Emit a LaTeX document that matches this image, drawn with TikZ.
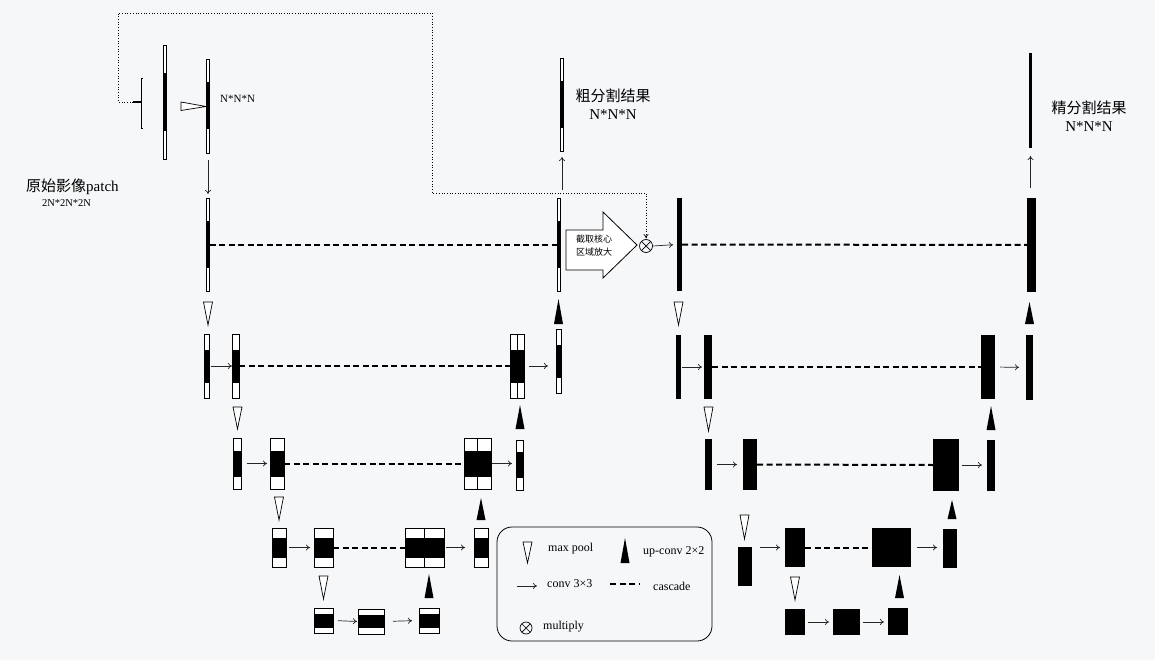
\documentclass[tikz,border=0pt]{standalone}
\usepackage{fontspec}
\setmainfont{Liberation Serif}
\newfontfamily\cjk{Noto Sans CJK SC}
\usetikzlibrary{arrows.meta,positioning}

\definecolor{bgcol}{RGB}{246,247,249}

% feature map: name, x, y, width, height, height of black band
\newcommand{\fmap}[6]{%
    \node[fmap, minimum width=#4pt, minimum height=#5pt] (#1) at (#2,#3) {};
    \fill ([yshift=0.5*#6pt]#1.west) rectangle ([yshift=-0.5*#6pt]#1.east);
    \draw[fmapline] (#1.north west) rectangle (#1.south east);
}
% solid feature map: name, x, y, width, height
\newcommand{\fsolid}[5]{%
    \node[fmap, fill=black, minimum width=#4pt, minimum height=#5pt] (#1) at (#2,#3) {};
}
% max pool / up-conv marks: x, top, bottom
\newcommand{\pooltri}[3]{\draw[pool] (#1-4.5,#2) -- (#1+4.5,#2) -- (#1,#3) -- cycle;}
\newcommand{\uptri}[3]{\fill (#1,#2) -- (#1+4.5,#3) -- (#1-4.5,#3) -- cycle;}

\begin{document}
\begin{tikzpicture}[
        x=1pt, y=-1pt,
        fmap/.style={
            rectangle,
            fill=white,
            inner sep=0pt,
            outer sep=0pt
        },
        fmapline/.style={line width=0.8pt},
        pool/.style={draw, fill=white, line width=0.7pt},
        conv/.style={
            -{To[length=4pt,width=6pt]},
            line width=0.7pt,
            black!85,
            shorten <=3pt,
            shorten >=4pt
        },
        cascade/.style={
            line width=2pt,
            dash pattern=on 6pt off 3.5pt
        },
        jump/.style={dotted, line width=0.7pt},
        mul/.style={
            circle,
            draw,
            line width=0.7pt,
            inner sep=0pt,
            minimum size=13pt,
            path picture={
                \draw (path picture bounding box.north west) -- (path picture bounding box.south east)
                      (path picture bounding box.south west) -- (path picture bounding box.north east);
            }
        },
        title/.style={font=\fontsize{15}{18}\selectfont, align=center, inner sep=0pt},
        lgd/.style={font=\fontsize{12}{14}\selectfont, anchor=west, inner sep=0pt}
    ]

    \fill[bgcol] (0,0) rectangle (1155,660);
    \useasboundingbox (0,0) rectangle (1155,660);

    % input patch
    \fmap{inbig}{165}{102}{3}{114}{58}
    \fmap{inpatch}{208}{106}{3.5}{94}{47}
    \draw[line width=0.8pt] (143,78) -- (141,78) -- (141,128) -- (143,128);
    \coordinate (tick) at (133,102);
    \draw[line width=1.5pt] (tick) -- (141,102);
    \draw[pool] (181,102) -- (206,106.5) -- (181,110.5) -- cycle;
    \node[anchor=west, inner sep=0pt, font=\fontsize{11}{13}\selectfont] (nsmall) at (220,99) {N*N*N};
    \node[anchor=west, inner sep=0pt, font=\fontsize{15}{18}\selectfont] (patch) at (26,187) {{\cjk 原始影像}patch};
    \node[inner sep=0pt, font=\fontsize{10.5}{12}\selectfont] (patchsize) at (66.5,203) {2N*2N*2N};

    % coarse network
    \fmap{la0}{208}{244.5}{3.5}{93}{47}
    \fmap{lb0}{559}{244.5}{3.5}{93}{47}

    \fmap{la1}{206.5}{366}{5}{64}{33}
    \fmap{lb1}{235.5}{366}{7}{64}{33}
    \fmap{lc1}{517}{366}{14}{64}{33}
    \draw[fmapline] (lc1.north) -- (lc1.south);
    \fmap{ld1}{558.5}{361}{5}{64}{33}

    \fmap{la2}{237}{463.5}{8}{51}{26}
    \fmap{lb2}{277}{463.5}{14}{51}{26}
    \fmap{lc2}{477.5}{463.5}{27}{51}{26}
    \draw[fmapline] (lc2.north) -- (lc2.south);
    \fmap{ld2}{519.5}{465}{7}{50}{26}

    \fmap{la3}{279}{547.5}{14}{39}{20}
    \fmap{lb3}{323.5}{547.5}{19}{39}{20}
    \fmap{lc3}{424.5}{547.5}{39}{39}{20}
    \draw[fmapline] (lc3.north) -- (lc3.south);
    \fmap{ld3}{481}{547.5}{14}{39}{20}

    \fmap{la4}{323.5}{620.5}{19}{25}{14}
    \fmap{lb4}{371}{621.5}{26}{25}{13}
    \fmap{lc4}{429}{620.5}{20}{25}{14}

    \fmap{coarse}{562}{104.5}{3}{93}{47}
    \node[title] (coarsetxt) at (613,104) {{\cjk 粗分割结果}\\N*N*N};

    \pooltri{208}{302}{325}
    \pooltri{237.5}{407}{429}
    \pooltri{279}{497}{520}
    \pooltri{323.5}{576}{599}
    \uptri{429}{574}{598}
    \uptri{481}{498}{520}
    \uptri{520}{405}{429}
    \uptri{558.5}{299}{324}

    % crop and multiply
    \draw[line width=0.8pt, fill=white] (566,230) -- (603,230) -- (603,212) -- (637,245)
        -- (603,278) -- (603,270) -- (566,270) -- cycle;
    \node[align=center, inner sep=0pt, font=\cjk\fontsize{9}{13}\selectfont] (crop) at (594,245.5) {截取核心\\区域放大};
    \node[mul] (mult) at (646,246) {};

    % fine network
    \fsolid{ra0}{679.5}{244.5}{5}{93}
    \fsolid{rb0}{1031.5}{245}{9}{94}

    \fsolid{ra1}{678.5}{367}{5}{64}
    \fsolid{rb1}{708}{367}{8}{64}
    \fsolid{rc1}{988}{367}{14}{64}
    \fsolid{rd1}{1029.5}{367.5}{7}{65}

    \fsolid{ra2}{708.5}{464.5}{7}{51}
    \fsolid{rb2}{750}{464.5}{14}{51}
    \fsolid{rc2}{946}{465}{26}{52}
    \fsolid{rd2}{991}{465.5}{8}{51}

    \fsolid{ra3}{745}{566.5}{14}{39}
    \fsolid{rb3}{795}{547.5}{20}{39}
    \fsolid{rc3}{891.5}{547.5}{39}{39}
    \fsolid{rd3}{950}{548.5}{14}{39}

    \fsolid{ra4}{795}{622}{20}{26}
    \fsolid{rb4}{846.5}{622}{27}{26}
    \fsolid{rc4}{898}{621.5}{20}{27}

    \fsolid{fine}{1030.5}{100.5}{3}{95}
    \node[title] (finetxt) at (1089,116) {{\cjk 精分割结果}\\N*N*N};

    \pooltri{678.5}{302}{325}
    \pooltri{708.5}{407}{431}
    \pooltri{744.5}{515}{539}
    \pooltri{795}{577}{600}
    \uptri{899.5}{575}{598}
    \uptri{952}{500}{519}
    \uptri{991}{406}{430}
    \uptri{1029.5}{302}{324}

    % cascades
    \draw[cascade] (la0.east) -- (lb0.west);
    \draw[cascade] (lb1.east) -- (lc1.west);
    \draw[cascade] (lb2.east) -- (lc2.west);
    \draw[cascade] (lb3.east) -- (lc3.west);
    \draw[cascade] (ra0.east) -- (rb0.west);
    \draw[cascade] (rb1.east) -- (rc1.west);
    \draw[cascade] (rb2.east) -- (rc2.west);
    \draw[cascade] (rb3.east) -- (rc3.west);

    % arrows
    \draw[conv, shorten <=7pt, shorten >=4pt] (inpatch.south) -- (la0.north);
    \draw[conv, shorten <=8pt, shorten >=6pt] (coarse.south |- lb0.north) -- (coarse.south);
    \draw[conv, shorten <=10pt, shorten >=8pt] (fine.south |- rb0.north) -- (fine.south);

    \draw[conv, shorten <=2pt, shorten >=0pt] (la1.east) -- (lb1.west);
    \draw[conv, shorten <=5pt, shorten >=8pt] (lc1.east) -- (lc1.east -| ld1.west);
    \draw[conv, shorten <=6pt, shorten >=3pt] (la2.east) -- (lb2.west);
    \draw[conv, shorten <=1pt, shorten >=4pt] (lc2.east) -- (lc2.east -| ld2.west);
    \draw[conv] (la3.east) -- (lb3.west);
    \draw[conv, shorten <=2pt, shorten >=9pt] (lc3.east) -- (ld3.west);
    \draw[conv, shorten <=5pt, shorten >=1pt] (la4.east) -- (lb4.west);
    \draw[conv, shorten <=9pt, shorten >=7pt] (lb4.east) -- (lc4.west);

    \draw[conv, shorten <=0pt] (mult.east) -- (ra0.west);
    \draw[conv, shorten <=1pt, shorten >=2pt] (ra1.east) -- (rb1.west);
    \draw[conv, shorten <=5pt, shorten >=7pt] (rc1.east) -- (rd1.west);
    \draw[conv, shorten <=5pt, shorten >=6pt] (ra2.east) -- (rb2.west);
    \draw[conv, shorten <=3pt, shorten >=5pt] (rc2.east) -- (rc2.east -| rd2.west);
    \draw[conv, shorten <=8pt, shorten >=5pt] (ra3.east |- rb3.west) -- (rb3.west);
    \draw[conv, shorten <=6pt, shorten >=6pt] (rc3.east) -- (rc3.east -| rd3.west);
    \draw[conv] (ra4.east) -- (rb4.west);
    \draw[conv] (rb4.east) -- (rb4.east -| rc4.west);

    % skip path of the input
    \coordinate (turn) at (432,193);
    \draw[jump, -{To[length=4pt,width=5pt]}, shorten >=1pt]
        (tick) -- (118,102) -- (118,13) -- (432,13) -- (turn) -- (mult.north |- turn) -- (mult.north);

    % legend
    \node[draw, rounded corners=15pt, line width=0.8pt, minimum width=215pt, minimum height=114pt] (legend) at (604.5,584) {};
    \pooltri{527.5}{542}{563}
    \node[lgd] (lpool) at (548,549) {max pool};
    \uptri{625}{538}{563}
    \node[lgd] (lup) at (643,552) {up-conv 2×2};
    \coordinate (lconva) at (517,586);
    \coordinate (lconvb) at (537,586);
    \draw[conv, shorten <=0pt, shorten >=0pt] (lconva) -- (lconvb);
    \node[lgd] (lconv) at (547,584) {conv 3×3};
    \coordinate (lcasa) at (610,584);
    \coordinate (lcasb) at (640,584);
    \draw[cascade] (lcasa) -- (lcasb);
    \node[lgd] (lcas) at (653,586) {cascade};
    \node[mul, minimum size=12pt] (lmul) at (526,628) {};
    \node[lgd] (lmultxt) at (543,627) {multiply};

\end{tikzpicture}
\end{document}
